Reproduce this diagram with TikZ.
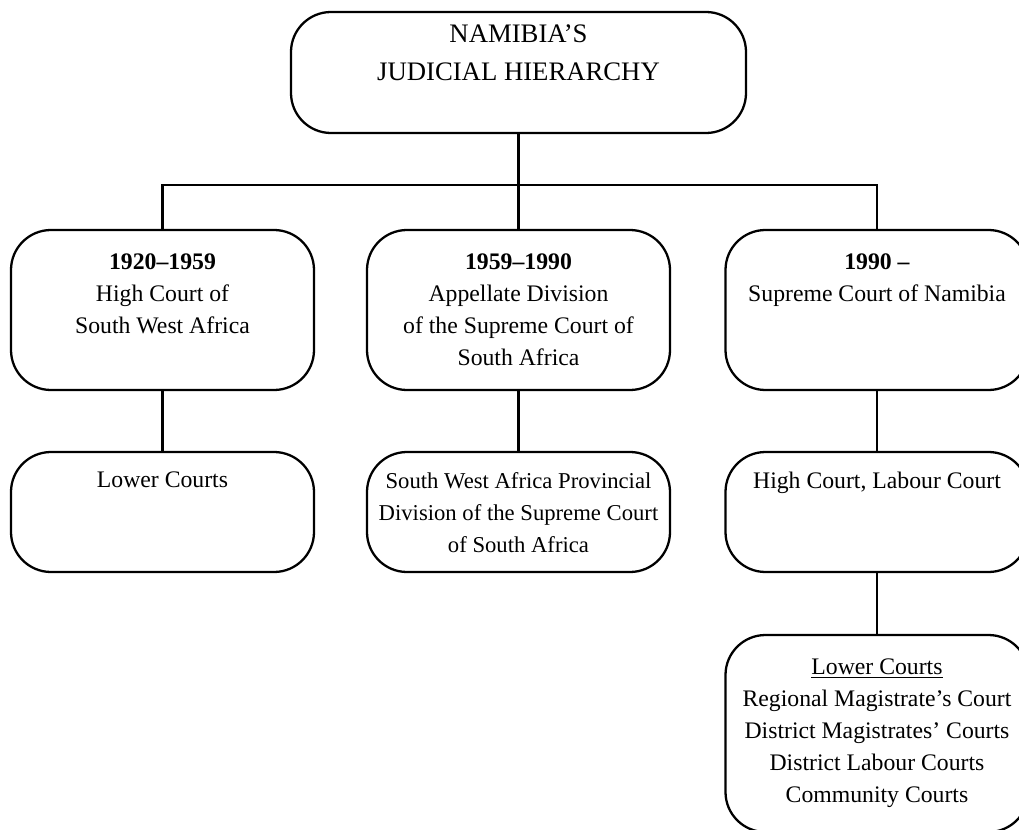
\documentclass[tikz,border=0pt]{standalone}
\usepackage{fontspec}
\setmainfont{Liberation Serif}
\usetikzlibrary{positioning}

\begin{document}
\begin{tikzpicture}[
	court/.style={draw, line width=1.3pt, rounded corners=0.8cm, minimum width=6.06cm, inner sep=0pt},
	txt/.style={align=center, inner sep=0pt, font=\fontsize{13.5}{18.2}\selectfont},
	link/.style={line width=1.3pt}]
	\useasboundingbox (0,0) rectangle (20.38,-16.6);
	% top of the hierarchy
	\node[court, minimum width=9.1cm, minimum height=2.42cm] (top) at (10.37,-1.45) {};
	\node[txt, font=\fontsize{15.2}{21.6}\selectfont, below=0.27cm of top.north] (toptxt) {NAMIBIA'S\\JUDICIAL HIERARCHY};
	% highest courts
	\node[court, minimum height=3.2cm] (hc) at (3.25,-6.2) {};
	\node[txt, below=0.5cm of hc.north] (hctxt) {\textbf{1920--1959}\\High Court of\\South West Africa};
	\node[court, minimum height=3.2cm] (ad) at (10.37,-6.2) {};
	\node[txt, below=0.5cm of ad.north] (adtxt) {\textbf{1959--1990}\\Appellate Division\\of the Supreme Court of\\South Africa};
	\node[court, minimum height=3.2cm] (sc) at (17.54,-6.2) {};
	\node[txt, below=0.5cm of sc.north] (sctxt) {\textbf{1990 --}\\Supreme Court of Namibia};
	% courts below them
	\node[court, minimum height=2.4cm] (lc) at (3.25,-10.24) {};
	\node[txt, below=0.42cm of lc.north] (lctxt) {Lower Courts};
	\node[court, minimum height=2.4cm] (swa) at (10.37,-10.24) {};
	\node[txt, font=\fontsize{12.9}{18.2}\selectfont, below=0.42cm of swa.north] (swatxt) {South West Africa Provincial\\Division of the Supreme Court\\of South Africa};
	\node[court, minimum height=2.4cm] (hl) at (17.54,-10.24) {};
	\node[txt, below=0.42cm of hl.north] (hltxt) {High Court, Labour Court};
	\node[court, minimum height=3.94cm] (low) at (17.54,-14.67) {};
	\node[txt, below=0.5cm of low.north] (lowtxt) {\underline{Lower Courts}\\Regional Magistrate's Court\\District Magistrates' Courts\\District Labour Courts\\Community Courts};
	% connectors
	\coordinate (bus) at (10.37,-3.7);
	\draw[link] (top.south) -- (ad.north);
	\draw[link] (hc.north) |- (bus) -| (sc.north);
	\draw[link] (hc.south) -- (lc.north);
	\draw[link] (ad.south) -- (swa.north);
	\draw[link] (sc.south) -- (hl.north);
	\draw[link] (hl.south) -- (low.north);
\end{tikzpicture}
\end{document}
